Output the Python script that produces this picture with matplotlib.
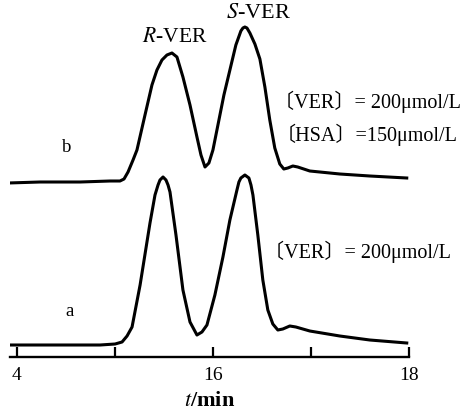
import numpy as np
import matplotlib
matplotlib.use('Agg')
import matplotlib.pyplot as plt

plt.rcParams['font.family'] = ['Liberation Serif', 'Noto Sans CJK SC']
plt.rcParams['mathtext.fontset'] = 'stix'

# retention time (min) and detector signal (arbitrary units)
t_a = [13.932, 14.441, 14.849, 15.002, 15.073, 15.124, 15.175, 15.257, 15.358, 15.409,
       15.440, 15.460, 15.491, 15.521, 15.542, 15.562, 15.623, 15.694, 15.766, 15.837,
       15.888, 15.939, 16.020, 16.102, 16.173, 16.245, 16.265, 16.285, 16.326, 16.367,
       16.388, 16.408, 16.458, 16.509, 16.560, 16.611, 16.662, 16.713, 16.784, 16.846,
       16.988, 17.294, 17.600, 17.977]
sig_a = [12, 12, 12, 13, 15, 21, 30, 72, 134, 162,
         172, 177, 180, 177, 172, 165, 122, 67, 35, 22,
         25, 32, 62, 100, 137, 167, 175, 179, 182, 179,
         172, 162, 122, 77, 47, 33, 27, 28, 31, 30,
         26, 21, 17, 14]

t_b = [13.911, 14.237, 14.645, 14.951, 15.052, 15.093, 15.134, 15.185, 15.225, 15.307,
       15.378, 15.429, 15.480, 15.531, 15.582, 15.633, 15.694, 15.766, 15.837, 15.878,
       15.919, 15.959, 16.000, 16.051, 16.112, 16.173, 16.234, 16.285, 16.306, 16.326,
       16.347, 16.377, 16.428, 16.479, 16.530, 16.580, 16.631, 16.682, 16.723, 16.764,
       16.815, 16.865, 16.988, 17.294, 17.600, 17.977]
sig_b = [174, 175, 175, 176, 176, 178, 185, 197, 207, 242,
         272, 287, 297, 302, 304, 300, 280, 252, 220, 202,
         190, 194, 207, 232, 262, 287, 312, 326, 329, 330,
         329, 324, 313, 298, 270, 237, 209, 193, 188, 189,
         191, 190, 186, 183, 181, 179]

tick_pos = [14, 15, 16, 17, 18]
tick_lab = ['4', '', '16', '', '18']

fig = plt.figure(figsize=(4.69, 4.17), dpi=100)
ax = fig.add_axes([10/469, 60/417, 399/469, 357/417])

ax.plot(t_a, sig_a, color='black', lw=2.2, solid_joinstyle='round')
ax.plot(t_b, sig_b, color='black', lw=2.2, solid_joinstyle='round')

ax.set_xlim(13.93, 18.0)
ax.set_ylim(0, 357)

for s in ['left', 'top', 'right']:
    ax.spines[s].set_visible(False)
ax.spines['bottom'].set_linewidth(1.7)
ax.set_yticks([])
ax.set_xticks(tick_pos)
ax.set_xticklabels(tick_lab, fontsize=14)
ax.tick_params(axis='x', direction='in', length=7, width=1.6, pad=7)
ax.set_xlabel('$t$/min', fontsize=16, fontweight='bold', labelpad=5)

ax.text(15.614, 320, '$R$-VER', fontsize=15.5, ha='center', va='center')
ax.text(16.469, 344, '$S$-VER', fontsize=16, ha='center', va='center')
ax.text(16.625, 255, '〔VER〕= 200μmol/L', fontsize=14.5, ha='left', va='center')
ax.text(16.635, 222, '〔HSA〕=150μmol/L', fontsize=14.5, ha='left', va='center')
ax.text(16.523, 105, '〔VER〕= 200μmol/L', fontsize=14.5, ha='left', va='center')
ax.text(14.512, 209, 'b', fontsize=13.5, ha='center', va='center')
ax.text(14.533, 46, 'a', fontsize=13.5, ha='center', va='center')

fig.savefig('out.png', dpi=100)
